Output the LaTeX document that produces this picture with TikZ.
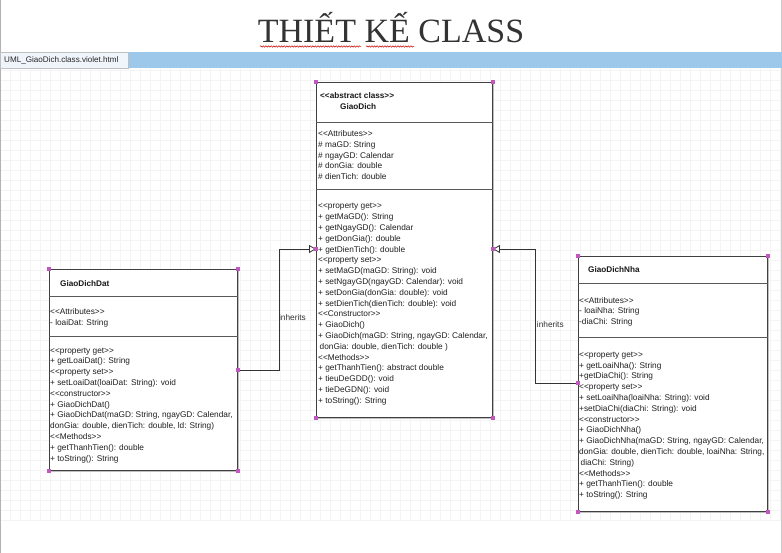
\documentclass[tikz,border=0pt]{standalone}
\usepackage{fontspec}
\setmainfont{Liberation Sans}
\newfontfamily\titlefont{Liberation Serif}
\usetikzlibrary{arrows.meta,decorations.pathmorphing}
\newcommand\lgs{<{}<}
\newcommand\rgs{>{}>}
\definecolor{barcol}{RGB}{158,200,234}
\definecolor{tabcol}{RGB}{240,244,251}
\definecolor{handlecol}{RGB}{192,88,192}
\definecolor{gridcol}{RGB}{244,244,244}
\begin{document}
\begin{tikzpicture}[x=1pt,y=-1pt,
  classbox/.style={draw=black!75, fill=white, line width=0.9pt, anchor=north west, inner sep=0pt},
  shadowbox/.style={fill=black!25},
  txt/.style={anchor=north west, inner sep=0pt, align=left, font=\fontsize{8.3}{10.8}\selectfont, text=black!88},
  hdr/.style={anchor=west, inner sep=0pt, font=\fontsize{8.2}{10}\selectfont\bfseries, text=black!90},
  sep/.style={draw=black!65, line width=0.8pt},
  inh/.style={draw=black!80, line width=0.8pt, -{Triangle[open, length=7pt, width=8pt, fill=white]}},
  lbl/.style={font=\fontsize{8.3}{10}\selectfont, text=black!80, inner sep=0pt},
  squig/.style={draw=red!80!black, line width=0.5pt, decorate, decoration={snake, amplitude=0.7pt, segment length=2.6pt}}]
\useasboundingbox (0,0) rectangle (782,553);
\fill[white] (0,0) rectangle (782,553);
% grid canvas
\foreach \gx in {0,10,...,780} \draw[gridcol, line width=0.4pt] (\gx,68) -- (\gx,520);
\foreach \gy in {70,80,...,520} \draw[gridcol, line width=0.4pt] (0,\gy) -- (782,\gy);
% frame lines
\draw[black!30, line width=1pt] (0.5,0) -- (0.5,553);
\draw[black!20, line width=0.8pt] (781.5,0) -- (781.5,553);
% title
\node[font=\titlefont\fontsize{34}{34}\selectfont, text=black!80, anchor=base, inner sep=0pt] (title) at (391,43) {THIẾT KẾ CLASS};
\draw[squig] (260,46.5) -- (361,46.5);
\draw[squig] (366,46.5) -- (414,46.5);
% tab bar
\fill[barcol] (0,52) rectangle (782,68);
\node[draw=black!25, fill=tabcol, anchor=north west, minimum width=128pt, minimum height=16pt, inner sep=0pt] (tab) at (0,52) {};
\node[anchor=west, inner sep=0pt, font=\fontsize{8.1}{9}\selectfont, text=black!85] (tabtxt) at (4,60) {UML\_GiaoDich.class.violet.html};

% ===== GiaoDich =====
\fill[shadowbox] (317.8,83.8) rectangle (493.8,418.8);
\node[classbox, minimum width=176pt, minimum height=335pt] (gd) at (316,82) {};
\draw[sep] (gd.west |- 0,122) -- (gd.east |- 0,122);
\draw[sep] (gd.west |- 0,189) -- (gd.east |- 0,189);
\node[hdr] (gdh1) at (320,96) {\lgs abstract class\rgs};
\node[hdr] (gdh2) at (340,107) {GiaoDich};
\node[txt] (gdattr) at (318,128.8) {\strut\lgs Attributes\rgs\\
\# maGD: String\\
\# ngayGD: Calendar\\
\# donGia: double\\
\# dienTich: double};
\node[txt] (gdmeth) at (318,201.1) {\strut\lgs property get\rgs\\
+ getMaGD(): String\\
+ getNgayGD(): Calendar\\
+ getDonGia(): double\\
+ getDienTich(): double\\
\lgs property set\rgs\\
+ setMaGD(maGD: String): void\\
+ setNgayGD(ngayGD: Calendar): void\\
+ setDonGia(donGia: double): void\\
+ setDienTich(dienTich: double): void\\
\lgs Constructor\rgs\\
+ GiaoDich()\\
+ GiaoDich(maGD: String, ngayGD: Calendar,\\
\hspace{1.5pt}donGia: double, dienTich: double )\\
\lgs Methods\rgs\\
+ getThanhTien(): abstract double\\
+ tieuDeGDD(): void\\
+ tieDeGDN(): void\\
+ toString(): String};

% ===== GiaoDichDat =====
\fill[shadowbox] (50.8,270.8) rectangle (238.8,471.8);
\node[classbox, minimum width=188pt, minimum height=201pt] (gdd) at (49,269) {};
\draw[sep] (gdd.west |- 0,296) -- (gdd.east |- 0,296);
\draw[sep] (gdd.west |- 0,336) -- (gdd.east |- 0,336);
\node[hdr] (gddh) at (60,284) {GiaoDichDat};
\node[txt] (gddattr) at (50,307.1) {\strut\lgs Attributes\rgs\\
- loaiDat: String};
\node[txt] (gddmeth) at (50,345.4) {\strut\lgs property get\rgs\\
+ getLoaiDat(): String\\
\lgs property set\rgs\\
+ setLoaiDat(loaiDat: String): void\\
\lgs constructor\rgs\\
+ GiaoDichDat()\\
+ GiaoDichDat(maGD: String, ngayGD: Calendar,\\
donGia: double, dienTich: double, ld: String)\\
\lgs Methods\rgs\\
+ getThanhTien(): double\\
+ toString(): String};

% ===== GiaoDichNha =====
\fill[shadowbox] (579.8,257.8) rectangle (768.8,512.8);
\node[classbox, minimum width=189pt, minimum height=255pt] (gdn) at (578,256) {};
\draw[sep] (gdn.west |- 0,283) -- (gdn.east |- 0,283);
\draw[sep] (gdn.west |- 0,337) -- (gdn.east |- 0,337);
\node[hdr] (gdnh) at (588,270) {GiaoDichNha};
\node[txt] (gdnattr) at (579,295.4) {\strut\lgs Attributes\rgs\\
- loaiNha: String\\
-diaChi: String};
\node[txt] (gdnmeth) at (579,349.5) {\strut\lgs property get\rgs\\
+ getLoaiNha(): String\\
+getDiaChi(): String\\
\lgs property set\rgs\\
+ setLoaiNha(loaiNha: String): void\\
+setDiaChi(diaChi: String): void\\
\lgs constructor\rgs\\
+ GiaoDichNha()\\
+ GiaoDichNha(maGD: String, ngayGD: Calendar,\\
donGia: double, dienTich: double, loaiNha: String,\\
\hspace{1.5pt}diaChi: String)\\
\lgs Methods\rgs\\
+ getThanhTien(): double\\
+ toString(): String};

% ===== connectors =====
\coordinate (datout) at (gdd.east |- 0,370);
\coordinate (gdin1) at (gd.west |- 0,249);
\coordinate (gdin2) at (gd.east |- 0,249);
\coordinate (nhaout) at (gdn.west |- 0,383);
\draw[inh] (datout) -- ++(41,0) |- (gdin1);
\draw[inh] (nhaout) -- ++(-43,0) |- (gdin2);
\node[lbl] (inh1) at (292.5,318) {inherits};
\node[lbl] (inh2) at (550.3,324.3) {inherits};

% ===== selection handles =====
\foreach \c in {gd.north west, gd.north east, gd.south west, gd.south east,
  gdd.north west, gdd.north east, gdd.south west, gdd.south east,
  gdn.north west, gdn.north east, gdn.south west, gdn.south east,
  datout, gdin1, gdin2, nhaout}
  \fill[handlecol] (\c) ++(-1.7,-1.7) rectangle ++(3.4,3.4);
\end{tikzpicture}
\end{document}
